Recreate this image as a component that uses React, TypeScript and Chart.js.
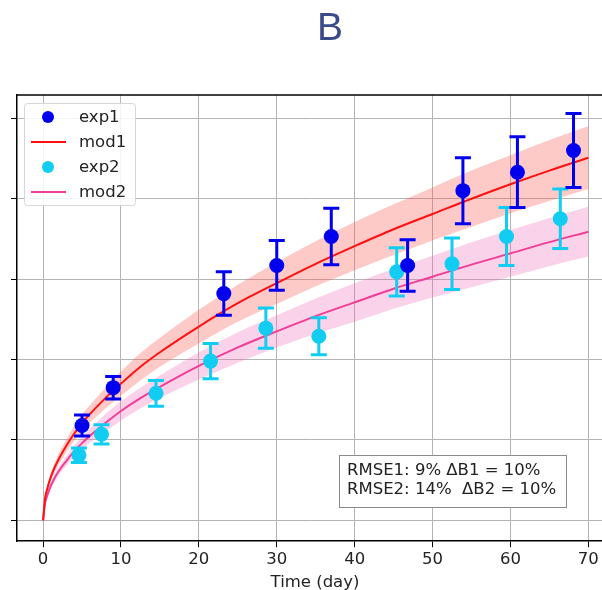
import React, { useEffect, useRef } from "react";
import { Chart, registerables } from "chart.js";
Chart.register(...registerables);

const titleText = "B";
const xAxisTitle = "Time (day)";
const xTicks = [0, 10, 20, 30, 40, 50, 60, 70];
const yTicks = [0, 1, 2, 3, 4, 5];
const rmseLines = ["RMSE1: 9% \u0394B1 = 10%", "RMSE2: 14%  \u0394B2 = 10%"];

const exp1X = [5, 9, 23.2, 30, 37, 46.8, 53.9, 60.9, 68.1];
const exp1Y = [1.18, 1.65, 2.82, 3.17, 3.53, 3.17, 4.1, 4.33, 4.6];
const exp1Err = [0.13, 0.14, 0.27, 0.31, 0.35, 0.32, 0.41, 0.44, 0.46];

const exp2X = [4.6, 7.5, 14.5, 21.5, 28.6, 35.4, 45.4, 52.5, 59.5, 66.4];
const exp2Y = [0.81, 1.07, 1.58, 1.98, 2.39, 2.29, 3.09, 3.19, 3.53, 3.75];
const exp2Err = [0.09, 0.12, 0.16, 0.22, 0.25, 0.23, 0.3, 0.32, 0.36, 0.37];

const modX = [0, 0.25, 0.5, 1, 1.5, 2, 3, 4, 5, 6, 8, 10, 12.5, 15, 20, 25, 30, 35, 40, 45, 50, 55, 60, 65, 70];
const mod1 = [0, 0.27, 0.38, 0.54, 0.66, 0.76, 0.93, 1.08, 1.21, 1.32, 1.52, 1.7, 1.91, 2.09, 2.41, 2.7, 2.95, 3.19, 3.41, 3.62, 3.81, 4.0, 4.18, 4.35, 4.51];
const mod1Hi = [0, 0.29, 0.41, 0.59, 0.72, 0.83, 1.01, 1.17, 1.32, 1.43, 1.65, 1.85, 2.08, 2.27, 2.62, 2.93, 3.21, 3.47, 3.71, 3.93, 4.14, 4.35, 4.54, 4.73, 4.9];
const mod1Lo = [0, 0.25, 0.35, 0.49, 0.6, 0.69, 0.85, 0.99, 1.1, 1.21, 1.39, 1.55, 1.74, 1.91, 2.2, 2.47, 2.69, 2.91, 3.11, 3.3, 3.48, 3.65, 3.82, 3.97, 4.12];
const mod2 = [0, 0.21, 0.3, 0.43, 0.53, 0.61, 0.74, 0.86, 0.96, 1.05, 1.21, 1.36, 1.52, 1.66, 1.92, 2.15, 2.35, 2.54, 2.71, 2.88, 3.03, 3.18, 3.32, 3.46, 3.59];
const mod2Hi = [0, 0.23, 0.33, 0.47, 0.58, 0.66, 0.8, 0.93, 1.04, 1.14, 1.32, 1.48, 1.65, 1.8, 2.09, 2.34, 2.55, 2.76, 2.95, 3.13, 3.29, 3.46, 3.61, 3.76, 3.9];
const mod2Lo = [0, 0.19, 0.27, 0.39, 0.48, 0.56, 0.68, 0.79, 0.88, 0.96, 1.1, 1.24, 1.39, 1.52, 1.75, 1.96, 2.15, 2.32, 2.47, 2.63, 2.77, 2.9, 3.03, 3.16, 3.28];

const C_EXP1 = "#0000ee";
const C_EXP2 = "#12cdf2";
const C_MOD1 = "#ff1010";
const C_MOD2 = "#f23d96";
const C_BAND1 = "rgba(250,95,85,0.33)";
const C_BAND2 = "rgba(240,110,185,0.3)";

const FONT = "'DejaVu Sans', sans-serif";
const FS = 16.5;

const pts = (xs: number[], ys: number[]) => xs.map((x, i) => ({ x, y: ys[i] }));

const errorBarPlugin = {
  id: "errbars",
  beforeDatasetDraw(chart: any, args: any) {
    const ds = chart.data.datasets[args.index];
    if (!ds.errors) return;
    const xs = chart.scales.x;
    const ys = chart.scales.y;
    const ctx = chart.ctx;
    ctx.save();
    ctx.strokeStyle = ds.errColor;
    ctx.lineWidth = 3;
    ds.data.forEach((p: any, i: number) => {
      const e = ds.errors[i];
      const px = xs.getPixelForValue(p.x);
      const top = ys.getPixelForValue(p.y + e);
      const bot = ys.getPixelForValue(p.y - e);
      ctx.beginPath();
      ctx.moveTo(px, top);
      ctx.lineTo(px, bot);
      ctx.moveTo(px - 8, top);
      ctx.lineTo(px + 8, top);
      ctx.moveTo(px - 8, bot);
      ctx.lineTo(px + 8, bot);
      ctx.stroke();
    });
    ctx.restore();
  },
};

const decorPlugin = {
  id: "decor",
  afterDraw(chart: any) {
    const ctx = chart.ctx;
    const a = chart.chartArea;
    ctx.save();
    // top spine
    ctx.strokeStyle = "#000";
    ctx.lineWidth = 1.5;
    ctx.beginPath();
    ctx.moveTo(a.left, a.top);
    ctx.lineTo(a.right + 20, a.top);
    ctx.stroke();

    // title
    ctx.fillStyle = "#3d4a8a";
    ctx.font = "39px 'Liberation Sans', Arial, sans-serif";
    ctx.textAlign = "center";
    ctx.textBaseline = "alphabetic";
    ctx.fillText(titleText, 330, 40);

    // x axis title
    ctx.fillStyle = "#222";
    ctx.font = FS + "px " + FONT;
    ctx.fillText(xAxisTitle, 315, 587);

    // legend
    const lx = 24, ly = 103, lw = 111, lh = 102;
    ctx.fillStyle = "rgba(255,255,255,0.85)";
    ctx.strokeStyle = "#d6d6d6";
    ctx.lineWidth = 1;
    ctx.beginPath();
    (ctx as any).roundRect(lx + 0.5, ly + 0.5, lw, lh, 3);
    ctx.fill();
    ctx.stroke();
    const items = [
      { label: "exp1", kind: "pt", color: C_EXP1 },
      { label: "mod1", kind: "ln", color: C_MOD1 },
      { label: "exp2", kind: "pt", color: C_EXP2 },
      { label: "mod2", kind: "ln", color: C_MOD2 },
    ];
    ctx.font = FS + "px " + FONT;
    ctx.textAlign = "left";
    ctx.textBaseline = "middle";
    items.forEach((it, i) => {
      const y = 117 + i * 25;
      if (it.kind === "pt") {
        ctx.fillStyle = it.color;
        ctx.beginPath();
        ctx.arc(48, y, 6, 0, Math.PI * 2);
        ctx.fill();
      } else {
        ctx.strokeStyle = it.color;
        ctx.lineWidth = 2;
        ctx.beginPath();
        ctx.moveTo(31, y);
        ctx.lineTo(66, y);
        ctx.stroke();
      }
      ctx.fillStyle = "#222";
      ctx.fillText(it.label, 79, y + 1);
    });

    // RMSE box
    ctx.fillStyle = "#fff";
    ctx.strokeStyle = "#8a8a8a";
    ctx.lineWidth = 1;
    ctx.fillRect(339.5, 455.5, 227, 52);
    ctx.strokeRect(339.5, 455.5, 227, 52);
    ctx.fillStyle = "#222";
    ctx.font = FS + "px " + FONT;
    ctx.textBaseline = "middle";
    ctx.fillText(rmseLines[0], 347, 471);
    ctx.fillText(rmseLines[1], 347, 490);
    ctx.restore();
  },
};

export default function App() {
  const ref = useRef<HTMLCanvasElement>(null);
  useEffect(() => {
    document.body.style.margin = "0";
    Chart.defaults.font.family = FONT;
    const chart = new Chart(ref.current as HTMLCanvasElement, {
      type: "scatter",
      data: {
        datasets: [
          {
            type: "scatter",
            label: "exp1",
            data: pts(exp1X, exp1Y),
            backgroundColor: C_EXP1,
            borderWidth: 0,
            pointRadius: 7.5,
            order: 0,
            errors: exp1Err,
            errColor: C_EXP1,
          } as any,
          {
            type: "scatter",
            label: "exp2",
            data: pts(exp2X, exp2Y),
            backgroundColor: C_EXP2,
            borderWidth: 0,
            pointRadius: 7.5,
            order: 1,
            errors: exp2Err,
            errColor: C_EXP2,
          } as any,
          {
            type: "line",
            label: "mod1",
            data: pts(modX, mod1),
            borderColor: C_MOD1,
            borderWidth: 2,
            pointRadius: 0,
            fill: false,
            cubicInterpolationMode: "monotone",
            order: 2,
          } as any,
          {
            type: "line",
            label: "mod2",
            data: pts(modX, mod2),
            borderColor: C_MOD2,
            borderWidth: 2,
            pointRadius: 0,
            fill: false,
            cubicInterpolationMode: "monotone",
            order: 3,
          } as any,
          {
            type: "line",
            label: "band1hi",
            data: pts(modX, mod1Hi),
            borderWidth: 0,
            borderColor: "rgba(0,0,0,0)",
            backgroundColor: C_BAND1,
            pointRadius: 0,
            fill: "+1",
            cubicInterpolationMode: "monotone",
            order: 4,
          } as any,
          {
            type: "line",
            label: "band1lo",
            data: pts(modX, mod1Lo),
            borderWidth: 0,
            borderColor: "rgba(0,0,0,0)",
            pointRadius: 0,
            fill: false,
            cubicInterpolationMode: "monotone",
            order: 5,
          } as any,
          {
            type: "line",
            label: "band2hi",
            data: pts(modX, mod2Hi),
            borderWidth: 0,
            borderColor: "rgba(0,0,0,0)",
            backgroundColor: C_BAND2,
            pointRadius: 0,
            fill: "+1",
            cubicInterpolationMode: "monotone",
            order: 6,
          } as any,
          {
            type: "line",
            label: "band2lo",
            data: pts(modX, mod2Lo),
            borderWidth: 0,
            borderColor: "rgba(0,0,0,0)",
            pointRadius: 0,
            fill: false,
            cubicInterpolationMode: "monotone",
            order: 7,
          } as any,
        ],
      },
      options: {
        animation: false,
        responsive: false,
        devicePixelRatio: 1,
        layout: { padding: { left: 11, right: 0, top: 95, bottom: 17 } },
        plugins: {
          legend: { display: false },
          tooltip: { enabled: false },
          title: { display: false },
        },
        scales: {
          x: {
            type: "linear",
            min: -3.35,
            max: 71.95,
            afterBuildTicks: (s: any) => {
              s.ticks = xTicks.map((v) => ({ value: v }));
            },
            grid: { color: "#b4b4b4", lineWidth: 1, tickColor: "#000", tickLength: 6 },
            border: { color: "#000", width: 1.5 },
            ticks: { color: "#222", font: { size: FS }, padding: 3, maxRotation: 0 },
            title: { display: false },
          },
          y: {
            type: "linear",
            min: -0.26,
            max: 5.29,
            afterBuildTicks: (s: any) => {
              s.ticks = yTicks.map((v) => ({ value: v }));
            },
            grid: { color: "#b4b4b4", lineWidth: 1, tickColor: "#000", tickLength: 6 },
            border: { color: "#000", width: 1.5 },
            ticks: { display: false },
          },
        },
      } as any,
      plugins: [errorBarPlugin, decorPlugin],
    });
    return () => chart.destroy();
  }, []);
  return (
    <div style={{ width: 602, height: 590, overflow: "hidden", position: "relative", background: "#fff" }}>
      <canvas ref={ref} width={611} height={590} style={{ display: "block" }} />
    </div>
  );
}
